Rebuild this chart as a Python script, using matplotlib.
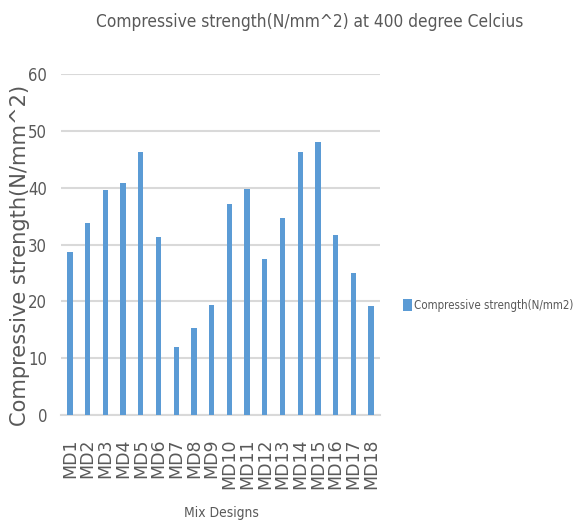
import matplotlib.pyplot as plt
import numpy as np

mixes = ['MD%d' % i for i in range(1, 19)]
strength = [28.6, 33.7, 39.6, 40.9, 46.2, 31.4, 12.0, 15.3, 19.4,
            37.2, 39.8, 27.5, 34.6, 46.2, 48.1, 31.6, 24.9, 19.1]

grey = '#595959'
cond = dict(family='DejaVu Sans', stretch='condensed')


def fit_width(txt, px, rend):
    # shrink/grow a text so it spans px pixels across
    w = txt.get_window_extent(rend)
    span = max(w.width, w.height) if txt.get_rotation() else w.width
    txt.set_fontsize(txt.get_fontsize() * px / span)


fig = plt.figure(figsize=(5.84, 5.29), dpi=100)
ax = fig.add_axes([61/584, 1 - 415/529, (380 - 61)/584, (415 - 74)/529])

x = np.arange(len(mixes))
bars = ax.bar(x, strength, width=0.3, color='#5b9bd5', zorder=3,
              label='Compressive strength(N/mm2)')

ax.set_ylim(0, 60)
ax.set_yticks(range(0, 61, 10))
ax.set_xlim(-0.5, len(mixes) - 0.5)
ax.set_xticks(x)
ax.set_xticklabels(mixes, rotation=90, fontsize=12.5, color=grey)
ax.grid(axis='y', color='#d9d9d9', linewidth=1.5, zorder=0)
for s in ['top', 'right', 'left']:
    ax.spines[s].set_visible(False)
ax.spines['bottom'].set_color('#d9d9d9')
ax.spines['bottom'].set_linewidth(1.5)
ax.tick_params(axis='x', length=0, pad=17)
ax.tick_params(axis='y', length=0, pad=10)
for t in ax.get_yticklabels():
    t.set_fontsize(12)
    t.set_color(grey)
    t.set_fontstretch('condensed')

ylab = ax.set_ylabel('Compressive strength(N/mm^2)', fontsize=13, color=grey)
ax.yaxis.set_label_coords(-31/319, (415 - 255)/341)
xlab = ax.set_xlabel('Mix Designs', fontsize=12, color=grey, **cond)
ax.xaxis.set_label_coords((221 - 61)/319, -(506 - 415)/341)
title = fig.text(310/584, 1 - 22/529, 'Compressive strength(N/mm^2) at 400 degree Celcius',
                 ha='center', va='center', fontsize=16, color=grey, **cond)

leg = fig.legend(handles=[bars], labels=['Compressive strength(N/mm2)'],
                 loc='center left', bbox_to_anchor=(393/584, 1 - 305/529),
                 frameon=False, prop=dict(size=8.3, **cond),
                 handlelength=0.75, handleheight=1.2, handletextpad=0.2,
                 labelcolor=grey)

rend = fig.canvas.get_renderer()
fit_width(title, 430, rend)
fit_width(xlab, 75, rend)
fit_width(ylab, 340, rend)

fig.savefig('out.png', dpi=100)
